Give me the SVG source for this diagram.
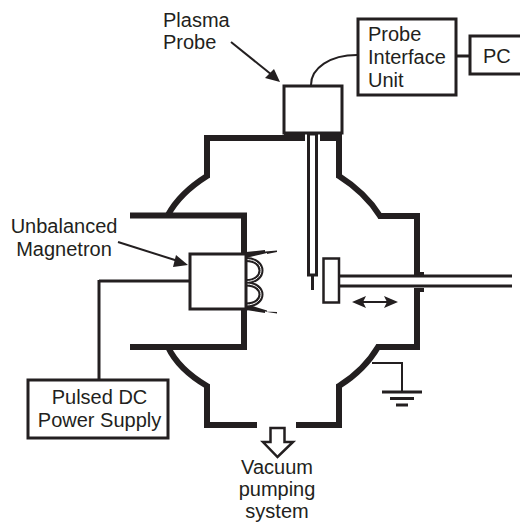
<svg xmlns="http://www.w3.org/2000/svg" width="520" height="522" viewBox="0 0 520 522">
<style>
text{font-family:"Liberation Sans",Arial,sans-serif;font-size:20px;fill:#231f20}
.c{text-anchor:middle}
.w{fill:none;stroke:#231f20;stroke-width:6}
.m{fill:none;stroke:#231f20;stroke-width:3}
.t{fill:none;stroke:#231f20;stroke-width:2}
.b{fill:#fff;stroke:#231f20;stroke-width:3}
.h{fill:#231f20}
</style>
<rect width="520" height="522" fill="#fff"/>
<g id="chamber">
<path class="w" d="M305 138H207V176C188 188 176 200 168 215"/>
<path class="w" d="M320 138H339V176C358 188 370 200 380 216H417V272"/>
<path class="w" d="M417 292V347H378C368 364 355 376 339 386V425H296"/>
<path class="w" d="M257 425H207V386C190 376 176 364 168 347"/>
<path class="w" d="M130 215.500H244V253"/>
<path class="w" d="M130 347H244V309"/>
</g>
<g id="connectors">
<path class="t" d="M311 85C311 68 330 55 357 55"/>
<path class="m" d="M457 56H469"/>
<path class="m" d="M99 281H190"/>
<path class="m" d="M99 280V379"/>
<path class="t" d="M231 42L272 75"/>
<polygon class="h" points="280,82 265,78 274,69"/>
<path class="t" d="M118 242L178 261"/>
<polygon class="h" points="188,265 173,267 176,255"/>
<path class="t" d="M358 302H390"/>
<polygon class="h" points="352,302 366,296 363,302 366,308"/>
<polygon class="h" points="398,302 384,296 387,302 384,308"/>
<path class="t" d="M372 363H402V392"/>
<path class="m" d="M382 392H422M390 398.500H414M396 405H408"/>
</g>
<g id="probe">
<rect x="284" y="86" width="58" height="47" class="b"/>
<rect x="284" y="133" width="21" height="8" class="h"/>
<rect x="320" y="133" width="22" height="8" class="h"/>
<rect x="308.500" y="134" width="8" height="141" fill="#fff" stroke="#231f20" stroke-width="3"/>
<path class="m" d="M312.500 275V290"/>
</g>
<g id="probe-interface">
<rect x="358" y="19" width="98" height="76" class="b"/>
<text x="368" y="41">Probe</text>
<text x="368" y="63.500">Interface</text>
<text x="368" y="86.500">Unit</text>
</g>
<g id="pc">
<rect x="470" y="36" width="60" height="38" class="b"/>
<text x="483" y="63">PC</text>
</g>
<g id="plasma-label">
<text x="163" y="27">Plasma</text>
<text x="163" y="49">Probe</text>
</g>
<g id="magnetron">
<path d="M246 252L265 250L265 251.500L277 250.500L277 252L267 254L267 253L246 258Z" class="h"/>
<path d="M246 310L265 313L265 311.500L277 312L277 313.500L267 312L267 310.500L246 304Z" class="h"/>
<path d="M246 259.500C266 259.500 266 281.500 246 281.500M246 284C266 284 266 305 246 305" fill="none" stroke="#231f20" stroke-width="5"/>
<path d="M246 259.500C266 259.500 266 281.500 246 281.500M246 284C266 284 266 305 246 305" fill="none" stroke="#fff" stroke-width="1"/>
<rect x="190" y="254" width="56" height="55" class="b"/>
<text x="64" y="233" class="c">Unbalanced</text>
<text x="64" y="256" class="c">Magnetron</text>
</g>
<g id="power-supply">
<rect x="28" y="380" width="140" height="58" class="b"/>
<text x="99.500" y="404" class="c">Pulsed DC</text>
<text x="99.500" y="427" class="c">Power Supply</text>
</g>
<g id="substrate">
<path class="m" d="M339 276H512M339 286H512"/>
<rect x="414" y="272" width="10" height="3" class="h"/>
<rect x="414" y="288" width="10" height="4" class="h"/>
<rect x="323.500" y="258.500" width="15.500" height="44" fill="#fff" stroke="#231f20" stroke-width="2.500"/>
</g>
<g id="vacuum">
<polygon points="270.500,428 284.500,428 284.500,442 293,442 277.500,457 263,442 270.500,442" fill="#fff" stroke="#231f20" stroke-width="2.500"/>
<text x="277" y="474" class="c">Vacuum</text>
<text x="277" y="495.500" class="c">pumping</text>
<text x="277" y="517.500" class="c" font-size="20">system</text>
</g>
</svg>
